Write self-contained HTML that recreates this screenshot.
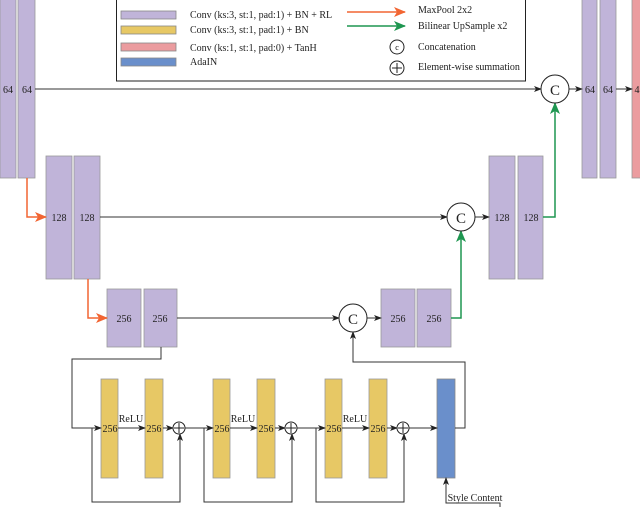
<!DOCTYPE html>
<html><head><style>body{margin:0;background:#fff}svg{display:block;font-family:"Liberation Serif",serif}</style></head><body>
<svg width="640" height="507" viewBox="0 0 640 507" xmlns="http://www.w3.org/2000/svg">
<defs>
<marker id="a" markerWidth="8" markerHeight="6" refX="7" refY="3" orient="auto" markerUnits="userSpaceOnUse"><path d="M0,0L8,3L0,6L2,3z" fill="#222"/></marker>
<marker id="o" markerWidth="12" markerHeight="10" refX="11" refY="5" orient="auto" markerUnits="userSpaceOnUse"><path d="M0,0L12,5L0,10L3,5z" fill="#f26532"/></marker>
<marker id="g" markerWidth="12" markerHeight="10" refX="11" refY="5" orient="auto" markerUnits="userSpaceOnUse"><path d="M0,0L12,5L0,10L3,5z" fill="#1e9650"/></marker>
</defs>
<g fill="none" stroke="#333" stroke-width="1">
<rect x="116.5" y="-1" width="409" height="82" stroke="#222"/>
</g>
<g stroke="#888" stroke-width="0.8">
<rect x="121" y="11" width="55" height="8" fill="#c0b4d9"/>
<rect x="121" y="26" width="55" height="8" fill="#e7c865"/>
<rect x="121" y="43" width="55" height="8" fill="#eb9c9f"/>
<rect x="121" y="58" width="55" height="8" fill="#6a8fcb"/>
</g>
<g font-size="10" fill="#222">
<text x="190" y="18">Conv (ks:3, st:1, pad:1) + BN + RL</text>
<text x="190" y="33">Conv (ks:3, st:1, pad:1) + BN</text>
<text x="190" y="51">Conv (ks:1, st:1, pad:0) + TanH</text>
<text x="190" y="65">AdaIN</text>
<text x="418" y="13">MaxPool 2x2</text>
<text x="418" y="29">Bilinear UpSample x2</text>
<text x="418" y="50">Concatenation</text>
<text x="418" y="70">Element-wise summation</text>
</g>
<line x1="347" y1="12" x2="405" y2="12" stroke="#f26532" stroke-width="1.5" marker-end="url(#o)"/>
<line x1="347" y1="26" x2="405" y2="26" stroke="#1e9650" stroke-width="1.5" marker-end="url(#g)"/>
<circle cx="397" cy="47" r="7" fill="#fff" stroke="#222"/><text x="397" y="50" font-size="8" text-anchor="middle">c</text>
<circle cx="397" cy="68" r="7" fill="#fff" stroke="#222"/><path d="M392,68h10M397,63v10" stroke="#222"/>

<g fill="#c0b4d9" stroke="#999" stroke-width="0.8">
<rect x="0" y="-1" width="16" height="179"/><rect x="18" y="-1" width="17" height="179"/>
<rect x="582" y="-1" width="15" height="179"/><rect x="600" y="-1" width="16" height="179"/>
<rect x="46" y="156" width="26" height="123"/><rect x="74" y="156" width="26" height="123"/>
<rect x="489" y="156" width="26" height="123"/><rect x="518" y="156" width="25" height="123"/>
<rect x="107" y="289" width="34" height="58"/><rect x="144" y="289" width="33" height="58"/>
<rect x="381" y="289" width="34" height="58"/><rect x="417" y="289" width="34" height="58"/>
</g>
<rect x="632" y="-1" width="10" height="179" fill="#eb9c9f" stroke="#999" stroke-width="0.8"/>
<g fill="#e7c865" stroke="#999" stroke-width="0.8">
<rect x="101" y="379" width="17" height="99"/><rect x="145" y="379" width="18" height="99"/>
<rect x="213" y="379" width="17" height="99"/><rect x="257" y="379" width="18" height="99"/>
<rect x="325" y="379" width="17" height="99"/><rect x="369" y="379" width="18" height="99"/>
</g>
<rect x="437" y="379" width="18" height="99" fill="#6a8fcb" stroke="#888" stroke-width="0.8"/>

<g fill="none" stroke="#333" stroke-width="1">
<line x1="35" y1="89" x2="541" y2="89" marker-end="url(#a)"/>
<line x1="569" y1="89" x2="582" y2="89" marker-end="url(#a)"/>
<line x1="616" y1="89" x2="632" y2="89" marker-end="url(#a)"/>
<line x1="100" y1="217" x2="447" y2="217" marker-end="url(#a)"/>
<line x1="475" y1="217" x2="489" y2="217" marker-end="url(#a)"/>
<line x1="177" y1="318" x2="339" y2="318" marker-end="url(#a)"/>
<line x1="367" y1="318" x2="381" y2="318" marker-end="url(#a)"/>
<polyline points="161,347 161,359 72,359 72,428 101,428" marker-end="url(#a)"/>
<polyline points="92,428 92,502 180,502 180,434" marker-end="url(#a)"/>
<line x1="118" y1="428" x2="145" y2="428" marker-end="url(#a)"/>
<line x1="163" y1="428" x2="173" y2="428" marker-end="url(#a)"/>
<polyline points="185,428 213,428" marker-end="url(#a)"/>
<polyline points="204,428 204,502 292,502 292,434" marker-end="url(#a)"/>
<line x1="230" y1="428" x2="257" y2="428" marker-end="url(#a)"/>
<line x1="275" y1="428" x2="285" y2="428" marker-end="url(#a)"/>
<polyline points="297,428 325,428" marker-end="url(#a)"/>
<polyline points="316,428 316,502 404,502 404,434" marker-end="url(#a)"/>
<line x1="342" y1="428" x2="369" y2="428" marker-end="url(#a)"/>
<line x1="387" y1="428" x2="397" y2="428" marker-end="url(#a)"/>
<line x1="409" y1="428" x2="437" y2="428" marker-end="url(#a)"/>
<polyline points="455,428 465,428 465,362 353,362 353,332" marker-end="url(#a)"/>
<polyline points="500,507 500,503 446,503 446,478" marker-end="url(#a)"/>
</g>
<polyline points="27,178 27,217 46,217" fill="none" stroke="#f26532" stroke-width="1.5" marker-end="url(#o)"/>
<polyline points="88,279 88,318 107,318" fill="none" stroke="#f26532" stroke-width="1.5" marker-end="url(#o)"/>
<polyline points="451,318 461,318 461,231" fill="none" stroke="#1e9650" stroke-width="1.5" marker-end="url(#g)"/>
<polyline points="543,217 555,217 555,103" fill="none" stroke="#1e9650" stroke-width="1.5" marker-end="url(#g)"/>

<g fill="#fff" stroke="#222" stroke-width="1">
<circle cx="555" cy="89" r="14"/><circle cx="461" cy="217" r="14"/><circle cx="353" cy="318" r="14"/>
<circle cx="179" cy="428" r="6"/><circle cx="291" cy="428" r="6"/><circle cx="403" cy="428" r="6"/>
</g>
<path d="M174,428h10M179,423v10M286,428h10M291,423v10M398,428h10M403,423v10" stroke="#222"/>
<g font-size="15" text-anchor="middle" fill="#222">
<text x="555" y="95">C</text><text x="461" y="223">C</text><text x="353" y="324">C</text>
</g>
<g font-size="10" text-anchor="middle" fill="#222">
<text x="8" y="93">64</text><text x="27" y="93">64</text>
<text x="590" y="93">64</text><text x="608" y="93">64</text><text x="637" y="93">4</text>
<text x="59" y="221">128</text><text x="87" y="221">128</text>
<text x="502" y="221">128</text><text x="531" y="221">128</text>
<text x="124" y="322">256</text><text x="160" y="322">256</text>
<text x="398" y="322">256</text><text x="434" y="322">256</text>
<text x="110" y="432">256</text><text x="154" y="432">256</text>
<text x="222" y="432">256</text><text x="266" y="432">256</text>
<text x="334" y="432">256</text><text x="378" y="432">256</text>
<text x="131" y="422">ReLU</text><text x="243" y="422">ReLU</text><text x="355" y="422">ReLU</text>
<text x="475" y="501" text-anchor="middle">Style Content</text>
</g>
</svg>
</body></html>
